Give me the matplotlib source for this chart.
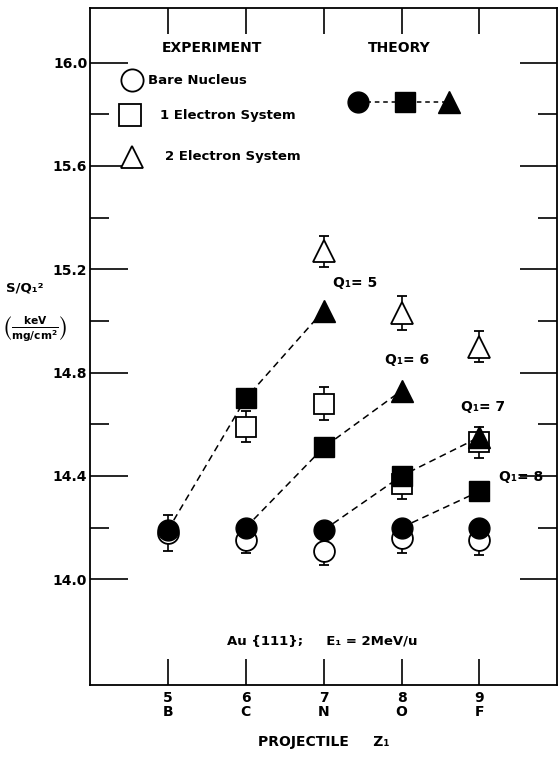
import matplotlib.pyplot as plt
from matplotlib.ticker import FixedLocator

plt.rcParams['font.family'] = ['DejaVu Sans']
plt.rcParams['font.weight'] = 'bold'
plt.rcParams['axes.labelweight'] = 'bold'

z_values = [5, 6, 7, 8, 9]
elements = ['B', 'C', 'N', 'O', 'F']

# experiment: bare nucleus, 1 electron and 2 electron systems
bare_z = [5, 6, 7, 8, 9]
bare_s = [14.18, 14.15, 14.11, 14.16, 14.15]
bare_err = [0.07, 0.05, 0.055, 0.06, 0.055]

one_e_z = [6, 7, 8, 9]
one_e_s = [14.59, 14.68, 14.37, 14.53]
one_e_err = [0.06, 0.065, 0.06, 0.06]

two_e_z = [7, 8, 9]
two_e_s = [15.27, 15.03, 14.90]
two_e_err = [0.06, 0.065, 0.06]

# theory, one dashed curve per incident charge Q1
theory_q = [5, 6, 7, 8]
theory_z = [[5, 6, 7], [6, 7, 8], [7, 8, 9], [8, 9]]
theory_s = [[14.19, 14.70, 15.04],
            [14.20, 14.51, 14.73],
            [14.19, 14.40, 14.55],
            [14.20, 14.34]]
theory_lone_z = [9]
theory_lone_s = [14.20]

markers = ['o', 's', '^']
sizes = [15, 15, 16]

fig = plt.figure(figsize=(5.59, 7.57), dpi=100)
ax = fig.add_axes([0.161, 0.095, 0.836, 0.894])

err_kw = dict(ls='none', color='black', mfc='white', mec='black', mew=1.3,
              elinewidth=1.2, capsize=3.6, capthick=1.2, zorder=2)
for zz, ss, ee, m, ms in [(bare_z, bare_s, bare_err, 'o', 15),
                          (one_e_z, one_e_s, one_e_err, 's', 15),
                          (two_e_z, two_e_s, two_e_err, '^', 16)]:
    ax.errorbar(zz, ss, yerr=ee, marker=m, ms=ms, **err_kw)

label_offsets = [(7, 20), (-12, 22), (-13, 22), (14, 10)]
for q, zz, ss, off in zip(theory_q, theory_z, theory_s, label_offsets):
    ax.plot(zz, ss, ls=(0, (4.5, 3)), color='black', lw=1.1, zorder=3)
    for x, y, m, ms in zip(zz, ss, markers, sizes):
        ax.plot(x, y, marker=m, ms=ms, color='black', zorder=4)
    ax.annotate('Q\u2081= %d' % q, (zz[-1], ss[-1]), xytext=off,
                textcoords='offset points', fontsize=10, va='center', ha='left')
ax.plot(theory_lone_z, theory_lone_s, 'o', ms=15, color='black', zorder=4)

# legend, drawn by hand like the original
ax.text(0.261, 0.941, 'EXPERIMENT', transform=ax.transAxes, ha='center', va='center', fontsize=10)
ax.text(0.662, 0.941, 'THEORY', transform=ax.transAxes, ha='center', va='center', fontsize=10)
leg_labels = ['Bare Nucleus', '1 Electron System', '2 Electron System']
leg_y = [0.894, 0.842, 0.781]
leg_x = [0.089, 0.086, 0.089]
leg_tx = [0.125, 0.150, 0.160]
for lab, m, y, x, tx in zip(leg_labels, markers, leg_y, leg_x, leg_tx):
    ax.plot(x, y, marker=m, ms=16, mfc='white', mec='black', mew=1.3,
            transform=ax.transAxes, clip_on=False)
    ax.text(tx, y, lab, transform=ax.transAxes, va='center', fontsize=9.5)
th_x = [0.573, 0.673, 0.769]
ax.plot(th_x, [0.861] * 3, ls=(0, (3, 2.5)), color='black', lw=1.1, transform=ax.transAxes)
for x, m, ms in zip(th_x, markers, sizes):
    ax.plot(x, 0.861, marker=m, ms=ms, color='black', transform=ax.transAxes)

ax.text(5.76, 13.757, 'Au {111};     E\u2081 = 2MeV/u', fontsize=9.5, va='center')

ax.set_xlim(4.0, 10.0)
ax.set_ylim(13.59, 16.21)
ax.xaxis.set_major_locator(FixedLocator(z_values))
ax.set_xticklabels(['%d\n%s' % (v, e) for v, e in zip(z_values, elements)],
                   linespacing=1.0, fontsize=10)
ax.yaxis.set_major_locator(FixedLocator([14.0, 14.4, 14.8, 15.2, 15.6, 16.0]))
ax.yaxis.set_minor_locator(FixedLocator([14.2, 14.6, 15.0, 15.4, 15.8]))
ax.set_yticklabels(['14.0', '14.4', '14.8', '15.2', '15.6', '16.0'], fontsize=10)
ax.tick_params(axis='y', which='major', direction='in', length=27, width=1.2,
               left=True, right=True, pad=2)
ax.tick_params(axis='y', which='minor', direction='in', length=13.5, width=1.2,
               left=True, right=True)
ax.tick_params(axis='x', which='major', direction='in', length=18.5, width=1.2,
               top=True, bottom=True, pad=4)
for sp in ax.spines.values():
    sp.set_linewidth(1.3)

ax.set_xlabel('PROJECTILE     Z\u2081', fontsize=10, labelpad=12)

fig.text(0.01, 0.620, 'S/Q\u2081\u00b2', fontsize=9.5, va='center')
fig.text(0.005, 0.565, r'$\left(\frac{\mathbf{keV}}{\mathbf{mg/cm^2}}\right)$',
         fontsize=11, va='center')

fig.savefig('out.png', dpi=100)
